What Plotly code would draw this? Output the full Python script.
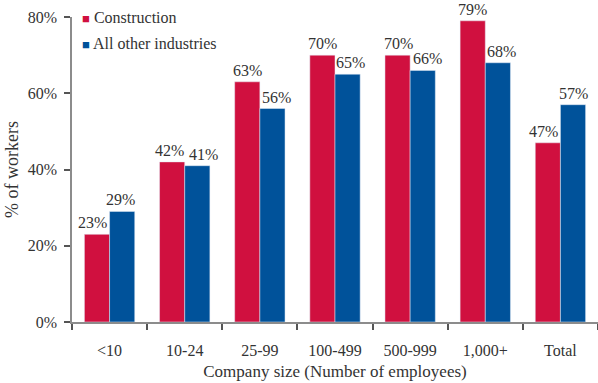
import plotly.graph_objects as go

categories = ["<10", "10-24", "25-99", "100-499", "500-999", "1,000+", "Total"]
construction = [23, 42, 63, 70, 70, 79, 47]
other = [29, 41, 56, 65, 66, 68, 57]
y_ticks = [0, 20, 40, 60, 80]
y_tick_labels = ["0%", "20%", "40%", "60%", "80%"]
series_names = ["Construction", "All other industries"]

# small horizontal nudges (px) of the value labels, as in the original
nudge_construction = [-4, -3, 0, 0, 1, 0, -4.5]
nudge_other = [-1.5, 6.5, 4.5, 2.5, 4.5, 3.5, 0]

RED = "#D0103F"
BLUE = "#00529A"
TXT = "#333333"
FONT = "Liberation Serif"

W, H = 598, 383
ML, MR, MT, MB = 72, 0, 17, 61
BARGAP = 0.33

fig = go.Figure()
for nm, vals, col in [(series_names[0], construction, RED), (series_names[1], other, BLUE)]:
    fig.add_trace(go.Bar(
        x=categories, y=vals, name=nm, marker_color=col,
        showlegend=False, hovertemplate="%{x}: %{y}%<extra>" + nm + "</extra>",
    ))

# value labels
cat_px = (W - ML - MR) / len(categories)
half = cat_px * (1 - BARGAP) / 4
for vals, nudges, side in [(construction, nudge_construction, -1), (other, nudge_other, 1)]:
    for c, v, n in zip(categories, vals, nudges):
        fig.add_annotation(x=c, y=v, xref="x", yref="y", text=f"{v}%",
                           showarrow=False, yanchor="bottom", xanchor="center",
                           xshift=side * half + n, yshift=1,
                           font=dict(family=FONT, size=16, color=TXT))

# legend entries: small coloured square glyph + name
for i, (nm, col) in enumerate([(series_names[0], RED), (series_names[1], BLUE)]):
    fig.add_trace(go.Scatter(
        x=[None], y=[None], mode="markers", legendgroup=f"g{i}",
        name=f'<span style="color:{col};font-size:13px">■</span> {nm}',
        marker=dict(size=1, color="rgba(0,0,0,0)")))

fig.update_layout(
    width=W, height=H,
    margin=dict(l=ML, r=MR, t=MT, b=MB),
    paper_bgcolor="white", plot_bgcolor="white",
    barmode="group", bargap=BARGAP, bargroupgap=0,
    font=dict(family=FONT, size=16, color=TXT),
    showlegend=True,
    legend=dict(x=-0.057, y=1.057, xanchor="left", yanchor="top",
                bgcolor="rgba(0,0,0,0)", font=dict(family=FONT, size=16, color=TXT),
                itemsizing="trace", tracegroupgap=2, traceorder="grouped"),
    xaxis=dict(
        type="category", showline=True, linecolor="#8c8c8c", linewidth=2,
        ticks="outside", tickson="boundaries", ticklen=6, tickcolor="#555555",
        tickwidth=1.5, ticklabelstandoff=13, automargin=False,
        tickfont=dict(family=FONT, size=16, color=TXT),
        title=dict(text="Company size (Number of employees)",
                   font=dict(family=FONT, size=17, color=TXT), standoff=7),
        showgrid=False,
    ),
    yaxis=dict(
        range=[0, 80], tickvals=y_ticks, ticktext=y_tick_labels,
        showline=True, linecolor="#8c8c8c", linewidth=1.5,
        ticks="outside", ticklen=6, tickcolor="#555555", tickwidth=1.5,
        ticklabelstandoff=4, automargin=False,
        tickfont=dict(family=FONT, size=16, color=TXT),
        title=dict(text="% of workers", font=dict(family=FONT, size=18, color=TXT), standoff=4),
        showgrid=False, zeroline=False,
    ),
)

fig.write_html("out.html", config={"displayModeBar": False},
               post_script="document.body.style.margin='0px';")
